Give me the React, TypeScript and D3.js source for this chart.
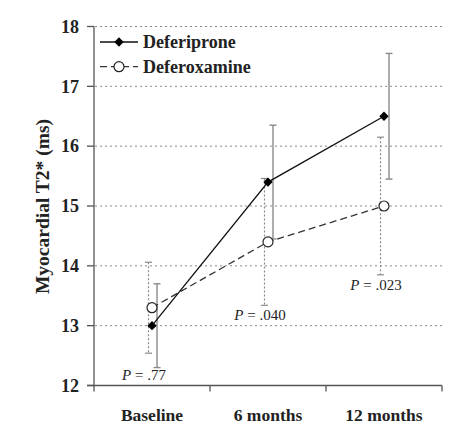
import React from "react";
import * as d3 from "d3";

const categories = ["Baseline", "6 months", "12 months"];
const deferiprone = [13.0, 15.4, 16.5];
const deferipronePlus = [0.7, 0.95, 1.05];
const deferoxamine = [13.3, 14.4, 15.0];
const deferoxaminePlus = [0.76, 1.06, 1.15];
const yTicks = [12, 13, 14, 15, 16, 17, 18];
const pLabels = [".77", ".040", ".023"];
const pLabelY = [12.1, 13.1, 13.6];

const W = 473;
const H = 433;
const x0 = 94, x1 = 442, yTop = 26.5, yBot = 385.5;

export default function App() {
  const x = d3.scaleBand<string>().domain(categories).range([x0, x1]).padding(0);
  const y = d3.scaleLinear().domain([12, 18]).range([yBot, yTop]);
  const cx = (c: string) => (x(c) as number) + x.bandwidth() / 2;
  const serif = "'Liberation Serif', 'Times New Roman', serif";
  const axisColor = "#555";
  const barColor = "#8a8a8a";

  const lineGen = d3.line<[number, number]>().x((d) => d[0]).y((d) => d[1]);
  const dfpPts: [number, number][] = categories.map((c, i) => [cx(c), y(deferiprone[i])]);
  const dfoPts: [number, number][] = categories.map((c, i) => [cx(c), y(deferoxamine[i])]);

  const diamond = d3.symbol().type(d3.symbolDiamond2).size(55)();

  return (
    <div style={{ position: "absolute", left: 0, top: 0 }}>
      <svg width={W} height={H} style={{ display: "block", background: "#fff" }} fontFamily={serif}>
        {/* gridlines */}
        {yTicks.filter((t) => t > 12).map((t) => (
          <line key={"g" + t} x1={x0 + 1} x2={x1} y1={y(t)} y2={y(t)} stroke="#8a8a8a" strokeWidth={1} strokeDasharray="2,3" />
        ))}
        {/* axes */}
        <line x1={x0} x2={x0} y1={yTop} y2={yBot + 6} stroke={axisColor} strokeWidth={1.3} />
        <line x1={x0 - 7} x2={x1} y1={yBot} y2={yBot} stroke={axisColor} strokeWidth={1.3} />
        {yTicks.map((t) => (
          <g key={"t" + t}>
            <line x1={x0 - 7} x2={x0} y1={y(t)} y2={y(t)} stroke={axisColor} strokeWidth={1.3} />
            <text x={79} y={y(t)} dy="0.35em" textAnchor="end" fontWeight="bold" fontSize={18} fill="#222">
              {t}
            </text>
          </g>
        ))}
        {categories.map((c) => (
          <g key={c}>
            <line x1={(x(c) as number) + x.bandwidth()} x2={(x(c) as number) + x.bandwidth()} y1={yBot} y2={yBot + 6} stroke={axisColor} strokeWidth={1.3} />
            <text x={cx(c)} y={420.5} textAnchor="middle" fontWeight="bold" fontSize={17.5} fill="#222">
              {c}
            </text>
          </g>
        ))}
        {/* y title */}
        <text transform={`translate(42,206.5) rotate(-90)`} textAnchor="middle" dy="0.35em" fontWeight="bold" fontSize={19.5} fill="#222">
          Myocardial T2* (ms)
        </text>

        {/* error bars deferoxamine (dotted) */}
        {categories.map((c, i) => {
          const ex = cx(c) - 3.5;
          const t = y(deferoxamine[i] + deferoxaminePlus[i]);
          const b = y(deferoxamine[i] - deferoxaminePlus[i]);
          return (
            <g key={"eo" + c} stroke={barColor} strokeWidth={1.2}>
              <line x1={ex} x2={ex} y1={t} y2={b} strokeDasharray="2,2" />
              <line x1={ex - 3.5} x2={ex + 3.5} y1={t} y2={t} />
              <line x1={ex - 3.5} x2={ex + 3.5} y1={b} y2={b} />
            </g>
          );
        })}
        {/* error bars deferiprone (solid) */}
        {categories.map((c, i) => {
          const ex = cx(c) + 5;
          const t = y(deferiprone[i] + deferipronePlus[i]);
          const b = y(deferiprone[i] - deferipronePlus[i]);
          return (
            <g key={"ep" + c} stroke={barColor} strokeWidth={1.4}>
              <line x1={ex} x2={ex} y1={t} y2={b} />
              <line x1={ex - 3.5} x2={ex + 3.5} y1={t} y2={t} />
              <line x1={ex - 3.5} x2={ex + 3.5} y1={b} y2={b} />
            </g>
          );
        })}

        {/* lines */}
        <path d={lineGen(dfoPts) || ""} fill="none" stroke="#333" strokeWidth={1.3} strokeDasharray="7,4" />
        <path d={lineGen(dfpPts) || ""} fill="none" stroke="#111" strokeWidth={1.3} />
        {dfoPts.map((p, i) => (
          <circle key={"co" + i} cx={p[0]} cy={p[1]} r={5} fill="#fff" stroke="#222" strokeWidth={1.2} />
        ))}
        {dfpPts.map((p, i) => (
          <path key={"dp" + i} d={diamond || ""} transform={`translate(${p[0]},${p[1]})`} fill="#000" />
        ))}

        {/* P labels */}
        {categories.map((c, i) => (
          <text key={"p" + c} x={cx(c) - 8} y={y(pLabelY[i])} textAnchor="middle" fontSize={15} fill="#222">
            <tspan fontStyle="italic">P</tspan>
            {" = " + pLabels[i]}
          </text>
        ))}

        {/* legend */}
        <g>
          <line x1={100} x2={138} y1={42} y2={42} stroke="#111" strokeWidth={1.3} />
          <path d={diamond || ""} transform="translate(119,42)" fill="#000" />
          <text x={143} y={42} dy="0.35em" fontWeight="bold" fontSize={18} fill="#222">Deferiprone</text>
          <line x1={100} x2={138} y1={66.7} y2={66.7} stroke="#333" strokeWidth={1.3} strokeDasharray="7,4" />
          <circle cx={119} cy={66.7} r={5} fill="#fff" stroke="#222" strokeWidth={1.2} />
          <text x={143} y={66.7} dy="0.35em" fontWeight="bold" fontSize={18} fill="#222">Deferoxamine</text>
        </g>
      </svg>
    </div>
  );
}
